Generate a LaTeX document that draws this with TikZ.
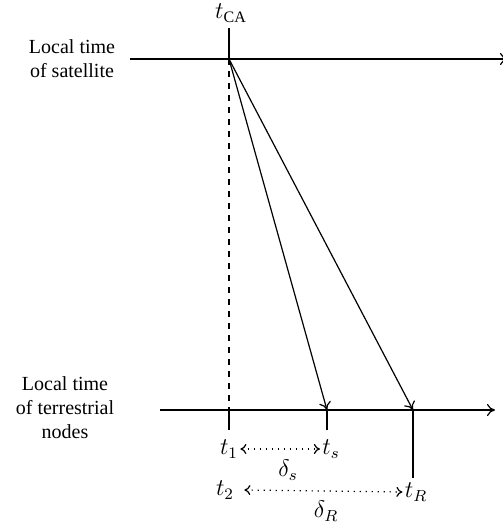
\documentclass[tikz,border=0pt]{standalone}
\usepackage{fontspec}
\setmainfont{Liberation Serif}
\usetikzlibrary{arrows.meta}

\begin{document}
\begin{tikzpicture}[
    x=0.5pt, y=-0.5pt,
    axis/.style={-{To[length=4pt,width=6pt]}, line width=0.6pt},
    tick/.style={line width=0.6pt},
    signal/.style={-{To[length=4pt,width=6pt]}, line width=0.6pt},
    span/.style={{To[length=3pt,width=5pt]}-{To[length=3pt,width=5pt]}, dash pattern=on 0.6pt off 2.4pt, line width=0.6pt},
    label/.style={align=center, inner sep=0pt},
    timelabel/.style={inner sep=1pt, font=\large}
]
\useasboundingbox (0,0) rectangle (503,525);
\clip (0,0) rectangle (503,525);
% axes
\coordinate (satL) at (130,59);
\coordinate (satR) at (508,59);
\coordinate (terL) at (160,410);
\coordinate (terR) at (495,410);
\coordinate (ca) at (229,59);
\coordinate (catop) at (229,28);
\coordinate (p1) at (229,410);
\coordinate (ps) at (327,410);
\coordinate (pR) at (413,410);
\coordinate (p1low) at (229,430);
\coordinate (pslow) at (327,430);
\coordinate (pRlow) at (413,478);
\draw[axis] (satL) -- (satR);
\draw[axis] (terL) -- (terR);
\node[label] (sat) at (72,59) {Local time\\of satellite};
\node[label] (ter) at (65,408) {Local time\\of terrestrial\\nodes};
% ticks
\draw[tick] (catop) -- (ca);
\draw[tick] (p1) -- (p1low);
\draw[tick] (ps) -- (pslow);
\draw[tick] (pR) -- (pRlow);
\draw[tick, dashed] (ca) -- (p1);
\node[timelabel] (tca) at (231,13) {$t_{\mathrm{CA}}$};
% signals
\draw[signal] (ca) -- (ps);
\draw[signal] (ca) -- (pR);
% delays
\node[timelabel] (t1) at (229,449) {$t_1$};
\node[timelabel] (ts) at (331,449) {$t_s$};
\node[timelabel] (t2) at (225,490) {$t_2$};
\node[timelabel] (tR) at (416,492) {$t_R$};
\draw[span] (t1.east) -- (ts.west);
\draw[span] ([xshift=4pt]t2.east) -- (tR.west);
\node[timelabel] (ds) at (288,470) {$\delta_s$};
\node[timelabel] (dR) at (326,511) {$\delta_R$};
\end{tikzpicture}
\end{document}
